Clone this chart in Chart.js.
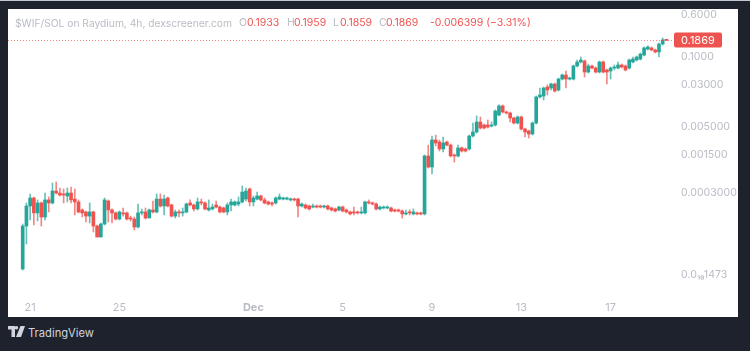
<!DOCTYPE html>
<html>
<head>
<meta charset="utf-8">
<title>$WIF/SOL</title>
<script src="https://cdn.jsdelivr.net/npm/chart.js@4"></script>
<style>
	html, body { margin: 0; width: 750px; height: 351px; overflow: hidden; background: #1e222d; }
	body { position: relative; font-family: Inter, Roboto, sans-serif; }
	#topline { position: absolute; left: 0; top: 0; width: 750px; height: 1px; background: #c4c7ce; }
	#panel { position: absolute; left: 8px; top: 9px; width: 730px; height: 308px; background: #fff; }
	#panel canvas { position: absolute; left: 0; top: 0; filter: blur(0.35px); }
	#legend span { position: absolute; top: 7px; font-size: 10.5px; line-height: 14px; white-space: pre; color: #b9bcc4; }
	#legend .red { color: #ef5350; }
	#legend .title { font-size: 10.25px; }
	#brand { position: absolute; left: 8px; top: 325px; height: 16px; color: #d1d4dc; font-size: 11.2px; line-height: 16px; }
	#brand svg { position: absolute; left: 0; top: 1px; }
	#brand span { position: absolute; left: 20px; top: 0; white-space: nowrap; }
</style>
</head>
<body>
<div id="topline"></div>
<div id="panel">
	<canvas id="grafico" width="730" height="308"></canvas>
	<div id="legend">
		<span class="title" style="left:7px">$WIF/SOL on Raydium, 4h, dexscreener.com</span>
		<span style="left:231px">O</span><span class="red" style="left:239px">0.1933</span>
		<span style="left:279px">H</span><span class="red" style="left:286px">0.1959</span>
		<span style="left:325px">L</span><span class="red" style="left:332px">0.1859</span>
		<span style="left:371px">C</span><span class="red" style="left:378px">0.1869</span>
		<span class="red" style="left:422px">-0.006399 (−3.31%)</span>
	</div>
</div>
<div id="brand">
	<svg width="17" height="11" viewBox="0 0 17 11"><path fill="#d1d4dc" d="M0 0h7v11H3.5V3.5H0zM8.5 0A1.8 1.8 0 1 1 8.4 3.6 1.8 1.8 0 0 1 8.5 0zM12.5 0H17l-4 11H8z"/></svg>
	<span>TradingView</span>
</div>
<script>
// Candles, oldest first (4h)
const opens = [
	.0000109,.0000681,.00016,.000225,.000119,.000182,.0001,.000207,.000182,.000303,
	.000278,.000267,.000245,.000278,.000215,.00019,.000135,.000124,.000104,.000124,
	.0000681,.0000426,.0000742,.000198,.000135,.000119,.0000918,.000119,.000119,.0000958,
	.0000918,.0000653,.000119,.000124,.0000958,.000135,.000124,.000215,.00016,.000225,
	.000167,.000104,.000124,.000119,.000124,.000182,.000167,.000141,.00019,.000182,
	.000135,.000141,.000167,.000153,.000147,.000124,.000167,.000167,.000174,.00019,
	.000215,.00033,.00019,.000215,.000245,.000207,.00019,.000182,.000182,.000215,
	.000215,.000215,.000207,.000215,.000215,.00016,.000167,.00016,.000153,.00016,
	.00016,.000153,.00016,.000147,.000141,.000135,.000153,.000135,.000124,.000124,
	.000124,.000119,.000119,.00019,.000182,.000174,.000141,.000147,.000147,.000147,
	.000135,.000135,.000129,.000114,.000124,.000114,.000119,.000119,.000114,.00135,
	.000843,.00267,.00245,.00182,.00245,.00215,.00141,.00135,.0019,.00182,
	.00182,.00316,.00375,.00574,.00506,.00506,.00484,.00506,.00774,.0114,
	.0088,.00843,.00681,.0055,.00711,.00426,.00391,.00344,.0055,.0167,
	.0174,.0255,.0245,.029,.0225,.0359,.0426,.0359,.0359,.0626,
	.0742,.0774,.0484,.0626,.0574,.0484,.0742,.0528,.0506,.0574,
	.0574,.0653,.0626,.0574,.0742,.0808,.0843,.1,.129,.135,
	.124,.114,.16,.1933
];
const highs = [
	.0000742,.000182,.000267,.000235,.000207,.00019,.000278,.000235,.000426,.000445,
	.000344,.00033,.000344,.000359,.00033,.000207,.000141,.000129,.000182,.000129,
	.0000711,.0000774,.000225,.000207,.000141,.000124,.000129,.000147,.000124,.000104,
	.0001,.000174,.000141,.000147,.000141,.000198,.000267,.000267,.000255,.000235,
	.000174,.000135,.000135,.000147,.000182,.000207,.000174,.000225,.000215,.00019,
	.000207,.000174,.000198,.00016,.000153,.000182,.000215,.000198,.000235,.000375,
	.000344,.000344,.000245,.00029,.000255,.000225,.000198,.00019,.000235,.000267,
	.000235,.000235,.000225,.000225,.000225,.000182,.000174,.000167,.000174,.000167,
	.000167,.000167,.000167,.000153,.000147,.00016,.00016,.000141,.000129,.000153,
	.000129,.000153,.000198,.000207,.00019,.000182,.00016,.00016,.00016,.000153,
	.000141,.000141,.000135,.000135,.000135,.000141,.000124,.000124,.00141,.00215,
	.00316,.0033,.00267,.00303,.00255,.00225,.00147,.00215,.00198,.0019,
	.0033,.0055,.00742,.00711,.00528,.00626,.00574,.00958,.0119,.0119,
	.00918,.0088,.00711,.00742,.00742,.00445,.00408,.00574,.0174,.0245,
	.0255,.0278,.0303,.0303,.0375,.0445,.0506,.0391,.0653,.0808,
	.0918,.0808,.0681,.0653,.0599,.0774,.0774,.055,.0599,.0653,
	.0742,.0681,.0653,.0843,.0918,.0958,.109,.141,.147,.141,
	.129,.167,.207,.1959
];
const lows = [
	.0000104,.0000316,.000088,.0000711,.0000843,.0000681,.000088,.000124,.000174,.000267,
	.000245,.000182,.00019,.000182,.000109,.000119,.0001,.0000808,.0000774,.0000528,
	.0000426,.0000426,.0000711,.0000808,.0000774,.000088,.000088,.000104,.000088,.0000843,
	.0000574,.0000626,.000109,.0000918,.0000958,.000119,.000119,.000153,.000109,.000153,
	.0001,.0000958,.0001,.000104,.000119,.00016,.000129,.000135,.000167,.000135,
	.000129,.000135,.000147,.000119,.000119,.000109,.000129,.00016,.00016,.000182,
	.000198,.00016,.00016,.000207,.000198,.000174,.000167,.00016,.000174,.000207,
	.000207,.000207,.000198,.000198,.0001,.000153,.000141,.000135,.000147,.000147,
	.000147,.000147,.000135,.000129,.000124,.000129,.000124,.000119,.000109,.000109,
	.000114,.000114,.000114,.000174,.000167,.000135,.000135,.000141,.000141,.000124,
	.000124,.000124,.0000958,.000109,.000109,.000109,.000109,.000109,.000109,.000808,
	.000626,.00207,.00167,.0016,.00207,.00129,.00104,.00129,.0016,.0016,
	.00174,.00303,.00359,.00426,.00426,.00445,.00464,.00484,.00742,.00843,
	.00808,.00574,.00528,.00528,.00408,.00303,.0029,.0033,.00528,.016,
	.0147,.0182,.0225,.0207,.0215,.0344,.0245,.0344,.0344,.0599,
	.0711,.0391,.0464,.055,.0464,.0464,.0464,.029,.0359,.0528,
	.055,.0574,.0506,.055,.0711,.0774,.0808,.0958,.124,.119,
	.109,.0918,.153,.1859
];
const closes = [
	.0000681,.00016,.000225,.000119,.000182,.0001,.000207,.000182,.000303,.000278,
	.000255,.000255,.000278,.000207,.00019,.000124,.000119,.000104,.000124,.0000681,
	.0000426,.0000742,.000207,.000135,.000119,.0000918,.000124,.000114,.0000918,.0000918,
	.0000653,.000119,.000124,.0000958,.000135,.000124,.000215,.00016,.000215,.00016,
	.000104,.000124,.000119,.000124,.000174,.000167,.000141,.00019,.000182,.000141,
	.000147,.000153,.000153,.000124,.000124,.000167,.00019,.00019,.00019,.00029,
	.000303,.00019,.000225,.000245,.000207,.000182,.000174,.000174,.000225,.000235,
	.000225,.000225,.000215,.000207,.00016,.000174,.000147,.000141,.00016,.000153,
	.000153,.00016,.000141,.000135,.000129,.000153,.000129,.000124,.000114,.000119,
	.000119,.000124,.00019,.000182,.000174,.000141,.000153,.000153,.000153,.000129,
	.000129,.000129,.000114,.000119,.000119,.000124,.000114,.000114,.00135,.000843,
	.00267,.00235,.00182,.00235,.00215,.00135,.00135,.0019,.00167,.00167,
	.00316,.00375,.00574,.00445,.00445,.00464,.00506,.00918,.0114,.0088,
	.00843,.00681,.0055,.00711,.00426,.00375,.00344,.0055,.0167,.0182,
	.0245,.0225,.029,.0215,.0359,.0426,.0359,.0375,.0626,.0742,
	.0808,.0484,.0626,.0574,.0484,.0742,.0484,.0484,.0574,.0599,
	.0653,.0599,.0528,.0808,.0843,.0918,.104,.135,.141,.124,
	.114,.16,.19,.1869
];

// Axis ticks
const dayTicks = [2, 26, 62, 86, 110, 134, 158];
const dayLabels = ["21", "25", "Dec", "5", "9", "13", "17"];
const priceTicks = [0.0000092, 0.0003, 0.0015, 0.005, 0.03, 0.1, 0.6];
const priceLabels = ["0.0₁₆1473", "0.0003000", "0.001500", "0.005000", "0.03000", "0.1000", "0.6000"];
const lastPrice = 0.1869;
const lastLabel = "0.1869";

const GREEN = "#26a69a";
const RED = "#ef5350";
const GREY = "#b9bcc4";
const FONT = "Inter, Roboto, sans-serif";

const candleColors = opens.map((o, i) => (closes[i] >= o ? GREEN : RED));
const wickColors = opens.map((o, i) => (closes[i] >= o ? "rgba(38,166,154,0.7)" : "rgba(239,83,80,0.7)"));

// Linha pontilhada do último preço e etiqueta no eixo
const priceLine = {
	id: "priceLine",
	afterDatasetsDraw(chart) {
		const { ctx, chartArea, scales } = chart;
		const y = Math.round(scales.y.getPixelForValue(lastPrice)) + 0.5;
		ctx.save();
		ctx.strokeStyle = "rgba(239,83,80,0.7)";
		ctx.lineWidth = 1;
		ctx.setLineDash([1, 2]);
		ctx.beginPath();
		ctx.moveTo(chartArea.left, y);
		ctx.lineTo(chartArea.right, y);
		ctx.stroke();
		ctx.setLineDash([]);
		ctx.fillStyle = RED;
		ctx.beginPath();
		ctx.roundRect(chartArea.right + 2, y - 8, 48, 15, 2);
		ctx.fill();
		ctx.fillStyle = "#fff";
		ctx.font = "11px " + FONT;
		ctx.textBaseline = "middle";
		ctx.fillText(lastLabel, chartArea.right + 9, y);
		ctx.restore();
	},
};

new Chart(document.getElementById("grafico"), {
	type: "bar",
	data: {
		datasets: [
			{
				label: "wick",
				data: opens.map((o, i) => ({ x: i, y: [lows[i], highs[i]] })),
				backgroundColor: wickColors,
				barThickness: 1,
				grouped: false,
				order: 2,
			},
			{
				label: "body",
				data: opens.map((o, i) => ({ x: i, y: [o, closes[i]] })),
				backgroundColor: candleColors,
				barThickness: 3,
				minBarLength: 1,
				grouped: false,
				order: 1,
			},
		],
	},
	options: {
		responsive: false,
		animation: false,
		plugins: { legend: { display: false }, tooltip: { enabled: false } },
		scales: {
			x: {
				type: "linear",
				offset: false,
				min: -3.95,
				max: 174.5,
				grid: { display: false, drawTicks: false },
				border: { display: false },
				afterFit(scale) {
					scale.height = 20;
					scale.paddingLeft = 0;
					scale.paddingRight = 0;
				},
				afterBuildTicks(scale) {
					scale.ticks = dayTicks.map((v) => ({ value: v }));
				},
				ticks: {
					autoSkip: false,
					maxRotation: 0,
					padding: 4,
					color: GREY,
					font: (ctx) => ({ family: FONT, size: 11, weight: ctx.index == 2 ? "bold" : "normal" }),
					callback: (value, index) => dayLabels[index],
				},
			},
			y: {
				type: "logarithmic",
				position: "right",
				bounds: "data",
				min: 0.0000033,
				max: 0.711,
				grid: { display: false, drawTicks: false },
				border: { display: false },
				afterFit(scale) {
					scale.width = 66;
					scale.paddingTop = 0;
					scale.paddingBottom = 0;
				},
				afterBuildTicks(scale) {
					scale.ticks = priceTicks.map((v) => ({ value: v }));
				},
				ticks: {
					autoSkip: false,
					padding: 9,
					labelOffset: 1.5,
					color: GREY,
					font: { family: FONT, size: 10.6 },
					callback: (value, index) => priceLabels[index],
				},
			},
		},
	},
	plugins: [priceLine],
});
</script>
</body>
</html>
